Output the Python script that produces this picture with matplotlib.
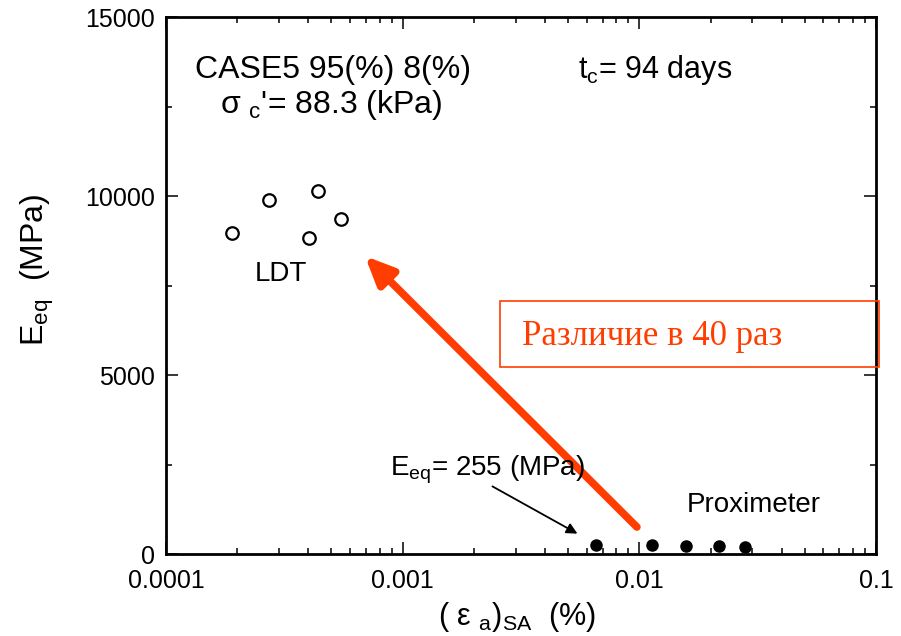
import matplotlib
matplotlib.use('Agg')
import matplotlib.pyplot as plt
from matplotlib.patches import Rectangle

plt.rcParams['font.family'] = ['Liberation Sans', 'DejaVu Sans']
plt.rcParams['mathtext.fontset'] = 'custom'
plt.rcParams['mathtext.rm'] = 'Liberation Sans'
plt.rcParams['mathtext.it'] = 'Liberation Sans'
plt.rcParams['mathtext.sf'] = 'Liberation Sans'
plt.rcParams['mathtext.default'] = 'regular'

# LDT (open circles)
ldt_strain = [1.90e-4, 2.72e-4, 4.01e-4, 4.38e-4, 5.48e-4]
ldt_E = [8970, 9890, 8830, 10140, 9360]

# Proximeter (filled circles)
prox_strain = [0.00656, 0.0113, 0.0158, 0.0218, 0.0280]
prox_E = [255, 250, 235, 220, 210]

x_ticks = [0.0001, 0.001, 0.01, 0.1]
x_ticklabels = ['0.0001', '0.001', '0.01', '0.1']
y_ticks = [0, 5000, 10000, 15000]

red = '#ff3d00'

fig = plt.figure(figsize=(9.01, 6.36), dpi=100)
ax = fig.add_axes([0.1842, 0.1289, 0.788, 0.8443])

ax.plot(ldt_strain, ldt_E, 'o', mfc='white', mec='black', ms=9, mew=1.6)
ax.plot(prox_strain, prox_E, 'o', mfc='black', mec='black', ms=8)

ax.set_xscale('log')
ax.set_xlim(0.0001, 0.1)
ax.set_ylim(0, 15000)
ax.set_xticks(x_ticks)
ax.set_xticklabels(x_ticklabels)
minor_x = [m * d for d in x_ticks[:-1] for m in range(2, 10)]
ax.set_xticks(minor_x, minor=True)
ax.set_xticklabels([], minor=True)
ax.set_yticks(y_ticks)
ax.set_yticks([2500, 7500, 12500], minor=True)

for s in ax.spines.values():
    s.set_linewidth(2.0)
ax.tick_params(which='both', direction='in', top=True, right=True,
               labelsize=18, width=1.1)
ax.tick_params(which='major', length=8.5)
ax.tick_params(which='minor', length=4.5)
ax.tick_params(axis='x', pad=11)
ax.tick_params(axis='y', pad=8)

# text annotations
fig.text(0.2164, 0.877, 'CASE5 95(%) 8(%)', fontsize=23)
fig.text(0.2444, 0.822, "σ $_{c}$'= 88.3 (kPa)", fontsize=23)
fig.text(0.6415, 0.877, 't$_{c}$= 94 days', fontsize=22)
fig.text(0.283, 0.558, 'LDT', fontsize=20)
fig.text(0.762, 0.195, 'Proximeter', fontsize=20)
fig.text(0.433, 0.253, 'E$_{eq}$= 255 (MPa)', fontsize=20)

ax.annotate('', xy=(5.61e-3, 531), xytext=(2.34e-3, 1927),
            arrowprops=dict(arrowstyle='-|>', color='black', lw=1.3,
                            mutation_scale=16))

# red arrow
ax.annotate('', xy=(6.93e-4, 8324), xytext=(0.00977, 754),
            arrowprops=dict(arrowstyle='-|>,head_length=0.85,head_width=0.38',
                            color=red, lw=5.5, mutation_scale=20,
                            shrinkA=0, shrinkB=0))

# red box with text
fig.patches.append(Rectangle((0.555, 0.4234), 0.4206, 0.1038, transform=fig.transFigure,
                             fill=False, edgecolor=red, lw=1.2, zorder=5))
fig.text(0.579, 0.4575, 'Различие в 40 раз', fontsize=25, color=red,
         family=['Liberation Serif', 'DejaVu Serif'])

# axis labels
fig.text(0.042, 0.575, 'E$_{eq}$  (MPa)', fontsize=23, rotation=90,
         ha='center', va='center')
fig.text(0.574, 0.030, r'( $\epsilon$ $_{a}$)$_{SA}$  (%)', fontsize=22,
         ha='center', va='center')

fig.savefig('out.png', dpi=100)
